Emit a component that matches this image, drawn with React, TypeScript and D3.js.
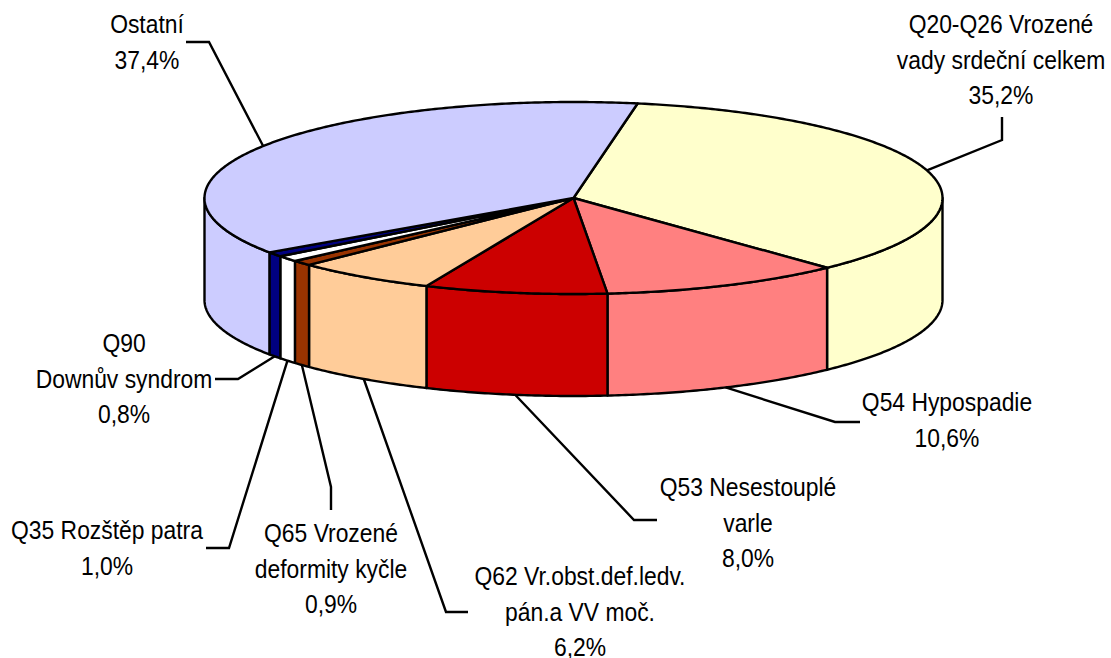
import React from "react";
import * as d3 from "d3";

const WIDTH = 1111;
const HEIGHT = 658;

const categories = ["Q20-Q26", "Q54", "Q53", "Q62", "Q65", "Q35", "Q90", "Ostatní"];
const shares = [35.2, 10.6, 8.0, 6.2, 0.9, 1.0, 0.8, 37.4];
const sliceColors = ["#FFFFCC", "#FF8080", "#CC0000", "#FFCC99", "#993300", "#FFFFFF", "#000080", "#CCCCFF"];
const labelLines = [
  ["Q20-Q26 Vrozené", "vady srdeční celkem", "35,2%"],
  ["Q54 Hypospadie", "10,6%"],
  ["Q53 Nesestouplé", "varle", "8,0%"],
  ["Q62 Vr.obst.def.ledv.", "pán.a VV moč.", "6,2%"],
  ["Q65 Vrozené", "deformity kyčle", "0,9%"],
  ["Q35 Rozštěp patra", "1,0%"],
  ["Q90", "Downův syndrom", "0,8%"],
  ["Ostatní", "37,4%"],
];
const labelCenterX = [1001, 947, 748, 580, 331, 107, 124, 147];
const labelFirstBaseline = [33, 411, 496, 585, 542, 539, 352, 33];
const leaderKnees: [number, number][][] = [
  [[1002, 140], [1002, 117]],
  [[835, 422], [860, 422]],
  [[634, 520], [657, 520]],
  [[446, 612], [468, 612]],
  [[331, 487], [331, 510]],
  [[229, 548], [206, 548]],
  [[238, 379], [215, 379]],
  [[209, 42], [186, 42]],
];

const cx = 573.5;
const cy = 198;
const rx = 369;
const ry = 96;
const depth = 102;
const LINE_HEIGHT = 35.5;
const STROKE = 2.4;
const START = (10 * Math.PI) / 180;

const pt = (a: number, h = 0): [number, number] => [cx + rx * Math.sin(a), cy - ry * Math.cos(a) + h];

const arcPts = (a0: number, a1: number, h: number) => {
  const n = Math.max(2, Math.ceil(Math.abs(a1 - a0) / 0.01));
  return d3.range(n + 1).map((i) => pt(a0 + ((a1 - a0) * i) / n, h));
};

const line = d3.line();
const slices = d3
  .pie<number>()
  .sort(null)
  .startAngle(START)
  .endAngle(START + 2 * Math.PI)(shares);

const FRONT0 = Math.PI / 2;
const FRONT1 = (3 * Math.PI) / 2;

export default function App() {
  return (
    <svg
      width={WIDTH}
      height={HEIGHT}
      style={{ position: "absolute", left: 0, top: 0, background: "#fff" }}
      fontFamily="'Liberation Sans', Arial, sans-serif"
      fontSize={26}
    >
      {slices.map((s, i) => {
        const a0 = Math.max(s.startAngle, FRONT0);
        const a1 = Math.min(s.endAngle, FRONT1);
        if (a1 <= a0) return null;
        const top = arcPts(a0, a1, 0);
        const bottom = arcPts(a1, a0, depth);
        return (
          <path
            key={"side" + i}
            d={line([...top, ...bottom])! + "Z"}
            fill={sliceColors[i]}
            stroke="#000"
            strokeWidth={STROKE}
            strokeLinejoin="round"
          />
        );
      })}
      {slices.map((s, i) => (
        <path
          key={"top" + i}
          d={line([[cx, cy], ...arcPts(s.startAngle, s.endAngle, 0)])! + "Z"}
          fill={sliceColors[i]}
          stroke="#000"
          strokeWidth={STROKE}
          strokeLinejoin="round"
        />
      ))}
      {slices.map((s, i) => {
        const mid = (s.startAngle + s.endAngle) / 2;
        const norm = mid % (2 * Math.PI);
        const front = norm > FRONT0 && norm < FRONT1;
        const start = pt(mid, front ? depth : 0);
        return (
          <polyline
            key={"leader" + i}
            points={[start, ...leaderKnees[i]].map((p) => p.join(",")).join(" ")}
            fill="none"
            stroke="#000"
            strokeWidth={STROKE}
          />
        );
      })}
      {labelLines.map((lines, i) =>
        lines.map((t, j) => (
          <text
            key={`label${i}-${j}`}
            textAnchor="middle"
            fill="#000"
            transform={`translate(${labelCenterX[i]},${labelFirstBaseline[i] + j * LINE_HEIGHT}) scale(0.88,1)`}
          >
            {t}
          </text>
        ))
      )}
    </svg>
  );
}
